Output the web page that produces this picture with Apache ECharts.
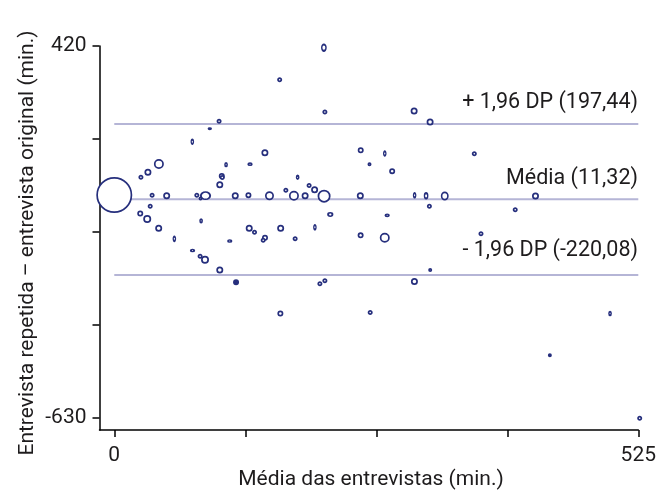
<!DOCTYPE html>
<html><head><meta charset="utf-8">
<script src="https://cdn.jsdelivr.net/npm/echarts@6/dist/echarts.min.js"></script>
<style>html,body{margin:0;padding:0;background:#fff}#c{width:659px;height:491px}</style>
</head><body><div id="c"></div>
<script>
// Média das entrevistas (min.)
const avgMinutes = [0, 26.7, 33.7, 44.7, 78.2, 95.7, 105, 112, 136, 107.7,
  108.2, 105.7, 150.9, 37.9, 52.5, 82.7, 86.4, 91.4, 121.2, 134.4,
  155.5, 26, 33, 36, 87, 44.5, 60.2, 135.2, 140.5, 115.7,
  78.4, 86, 90.9, 105.7, 122, 151, 149.2, 166.7, 183.7, 195.2,
  200.7, 171.9, 180, 191.2, 210.2, 246.5, 278.4, 300.9, 312.4, 331.1,
  315.7, 216.4, 273.4, 181.2, 201, 246.8, 271, 316.5, 211, 206,
  300.7, 166.4, 256.4, 210, 165.7, 211, 300.4, 316.4, 246.9, 255.7,
  271, 360.7, 422, 401.7, 367.4, 496.7, 436.4, 526.4];
// Entrevista repetida – entrevista original (min.)
const diffMinutes = [-1, 49.1, 63.5, 86.6, 149.6, 186.4, 207.3, 84.7, 86.1, 52.7,
  48.5, 28.2, 118.3, -1.5, -2.9, -1.5, -10.8, -2.9, -3.2, -1.5,
  -3.2, -53.2, -68.7, -32.8, -73.8, -95, -124.7, -95, -106, -130.9,
  -157.7, -174.1, -183.7, -212.8, -247.5, -121.6, -128.6, -95, 49.1, 25.9,
  14.1, 12.4, -3.2, -3.2, -4.3, -3.2, 66.3, -1.8, -3.2, -3.8,
  -32.8, -56, -58.3, -124.4, -92.2, -114.8, -121.8, -212.8, -243, -251.5,
  -245.3, -335.7, -332.9, 415.2, 324.8, 233.5, 236.4, 205.3, 125.6, 86.1,
  116.3, 115.7, -3.8, -42.5, -110.3, -335.7, -453.8, -631.8];
// marker extent (bubble width / height as drawn)
const markerW = [36, 5, 7, 10, 4, 4, 5, 4, 5, 6,
  5, 7, 7, 5, 7, 5, 4, 11, 7, 6,
  9, 6, 8, 5, 4, 7, 4, 7, 5, 5,
  5, 5, 8, 7, 6, 6, 5, 7, 4, 5,
  7, 5, 10, 7, 13, 7, 6, 4, 5, 8,
  5, 6, 5, 5, 4, 6, 10, 4, 5, 5,
  7, 6, 5, 6, 5, 5, 7, 7, 6, 4,
  4, 5, 7, 5, 5, 4, 4, 5];
const markerH = [36, 5, 7, 10, 6, 3, 5, 5, 4, 6,
  5, 7, 7, 5, 7, 5, 4, 9, 7, 6,
  9, 6, 8, 5, 5, 7, 6, 7, 5, 4,
  4, 5, 8, 7, 6, 6, 5, 7, 5, 5,
  7, 5, 10, 7, 13, 7, 6, 6, 7, 9,
  5, 5, 4, 5, 6, 6, 10, 4, 5, 5,
  7, 6, 5, 8, 5, 5, 7, 7, 6, 4,
  6, 5, 7, 5, 5, 5, 4, 5];
const filledIdx = [34, 76];

const refValues = [199.6, -13.1, -226.9];
const refLabels = ['+ 1,96 DP (197,44)', 'Média (11,32)', '- 1,96 DP (-220,08)'];
const xTicks = [0, 131.25, 262.5, 393.75, 525];
const xTickLabels = [0, 525];
const yTicks = [420, 157.5, -105, -367.5, -630];
const yTickLabels = [420, -630];
const xTitle = 'Média das entrevistas (min.)';
const yTitle = 'Entrevista repetida – entrevista original (min.)';

const FONT = 'Roboto';
const TXT = '#1e1c1d';
const DOT = '#262f7d';
const BW = 1.7;

const scatterData = avgMinutes.map((x, i) => {
  const f = filledIdx.indexOf(i) >= 0;
  return {
    value: [x, diffMinutes[i]],
    symbolSize: [Math.max(markerW[i] - BW, 1.5), Math.max(markerH[i] - BW, 1.5)],
    itemStyle: f ? { color: DOT, borderColor: DOT, borderWidth: BW } : undefined
  };
});

const chart = echarts.init(document.getElementById('c'), null, { renderer: 'canvas' });
const option = {
  animation: false,
  backgroundColor: '#fff',
  grid: { left: 99.5, right: 19.7, top: 46, bottom: 61, containLabel: false },
  xAxis: {
    type: 'value', min: -14.8, max: 525,
    splitLine: { show: false },
    axisLine: { show: true, onZero: false, lineStyle: { color: '#000', width: 1.5 } },
    axisTick: { show: true, length: 7, lineStyle: { color: '#000', width: 1.5 }, customValues: xTicks },
    axisLabel: { show: true, customValues: xTickLabels, margin: 15, fontFamily: FONT, fontSize: 21, color: TXT }
  },
  yAxis: {
    type: 'value', min: -664.8, max: 420,
    splitLine: { show: false },
    axisLine: { show: true, onZero: false, lineStyle: { color: '#000', width: 1.5 } },
    axisTick: { show: true, length: 7, lineStyle: { color: '#000', width: 1.5 }, customValues: yTicks },
    axisLabel: { show: true, customValues: yTickLabels, margin: 13, fontFamily: FONT, fontSize: 21, color: TXT }
  },
  series: [
    ...refValues.map(v => ({
      type: 'line', data: [[0, v], [525, v]], symbol: 'none', silent: true,
      lineStyle: { color: '#b5b5d6', width: 2 }, z: 1
    })),
    {
      type: 'scatter', data: scatterData, symbol: 'circle', clip: false, z: 3,
      itemStyle: { color: '#fff', opacity: 1, borderColor: DOT, borderWidth: BW }
    }
  ]
};
chart.setOption(option);

const labelOffsets = [21, 21, 24.5];
const graphics = refValues.map((v, i) => {
  const py = chart.convertToPixel({ gridIndex: 0 }, [0, v])[1];
  return {
    type: 'text', x: 638, y: py - labelOffsets[i],
    style: { text: refLabels[i], fontFamily: FONT, fontSize: 21.5, fill: TXT, align: 'right', verticalAlign: 'middle' }
  };
});
graphics.push({
  type: 'text', x: 371, y: 480,
  style: { text: xTitle, fontFamily: FONT, fontSize: 21, fill: TXT, align: 'center', verticalAlign: 'middle' }
});
graphics.push({
  type: 'text', x: 28, y: 243, rotation: Math.PI / 2,
  style: { text: yTitle, fontFamily: FONT, fontSize: 21, fill: TXT, align: 'center', verticalAlign: 'middle' }
});
chart.setOption({ graphic: graphics });
</script>
</body></html>
